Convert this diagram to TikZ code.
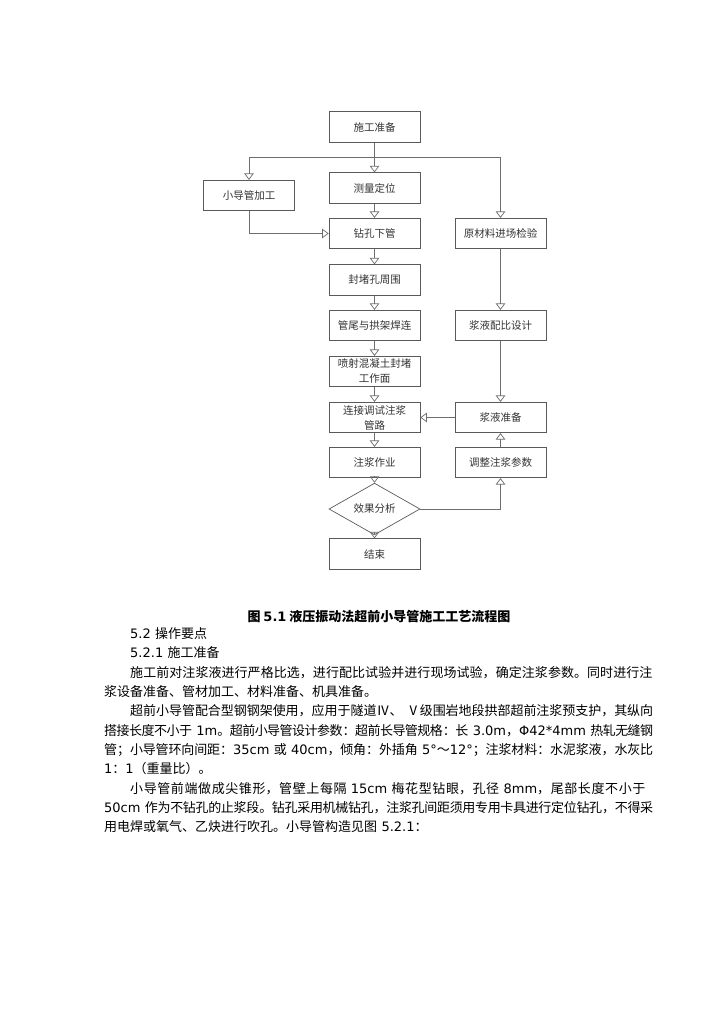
\documentclass[tikz,border=0pt]{standalone}
\usepackage{fontspec}
\setmainfont{Noto Sans CJK SC}
\newfontfamily\latfont{DejaVu Sans}
\newcommand{\lat}[1]{{\latfont #1}}
\usetikzlibrary{arrows.meta, positioning, shapes.geometric}
\XeTeXlinebreaklocale "zh"
\XeTeXlinebreakskip=0pt plus 2pt minus 0.6pt
\definecolor{boxgray}{HTML}{5A5A5A}
\definecolor{linegray}{HTML}{6E6E6E}
\definecolor{labelgray}{HTML}{333333}

\begin{document}
\begin{tikzpicture}[x=1pt, y=-1pt,
  stepbox/.style={draw=boxgray, line width=0.7pt, minimum width=91pt, minimum height=30.5pt,
                  inner sep=1pt, align=center, text=labelgray, font=\fontsize{10.5}{15}\selectfont},
  checkbox/.style={diamond, draw=boxgray, line width=0.7pt, minimum width=91pt, minimum height=28pt,
                   inner sep=0pt, text=labelgray, font=\fontsize{10.5}{15}\selectfont},
  flow/.style={draw=linegray, line width=0.7pt, -{Triangle[open, width=9.5pt, length=6.5pt]}}]
  \fill[white] (0,0) rectangle (724,1024);
  \useasboundingbox (0,0) rectangle (724,1024);
  % centre column
  \node[stepbox] (prep)    at (374.5,127)   {施工准备};
  \node[stepbox] (survey)  at (374.5,188)   {测量定位};
  \node[stepbox] (drill)   at (374.5,233.5) {钻孔下管};
  \node[stepbox] (seal)    at (374.5,280)   {封堵孔周围};
  \node[stepbox] (weld)    at (374.5,325.5) {管尾与拱架焊连};
  \node[stepbox] (spray)   at (374.5,371.5) {喷射混凝土封堵\\工作面};
  \node[stepbox] (connect) at (374.5,417.5) {连接调试注浆\\管路};
  \node[stepbox] (grout)   at (374.5,462.5) {注浆作业};
  \node[checkbox] (check)  at (374.5,509)   {效果分析};
  \node[stepbox] (finish)  at (374.5,554)   {结束};
  % side columns
  \node[stepbox] (pipe)     at (249,195.5)   {小导管加工};
  \node[stepbox] (material) at (500.5,233.5) {原材料进场检验};
  \node[stepbox] (mix)      at (500.5,325.5) {浆液配比设计};
  \node[stepbox] (slurry)   at (500.5,417.5) {浆液准备};
  \node[stepbox] (adjust)   at (500.5,462.5) {调整注浆参数};
  % connectors
  \coordinate (fork) at (374.5,157);
  \draw[flow] (prep) -- (survey);
  \draw[flow] (fork) -| (pipe.north);
  \draw[flow] (fork) -| (material.north);
  \draw[flow] (pipe.south) |- (drill.west);
  \foreach \a/\b in {survey/drill, drill/seal, seal/weld, weld/spray, spray/connect,
                     connect/grout, grout/check, check/finish, material/mix, mix/slurry, adjust/slurry}
    \draw[flow] (\a) -- (\b);
  \draw[flow] (slurry.west) -- (connect.east);
  \draw[flow] (check.east) -| (adjust.south);
  % caption and text
  \node[font=\fontsize{13}{16}\selectfont\bfseries] (caption) at (379,617)
    {图 \lat{5.1} 液压振动法超前小导管施工工艺流程图};
  \node[anchor=north west, text width=549pt, inner sep=0pt,
        font=\fontsize{13}{19.3}\selectfont] (body) at (104,627.5) {%
    \setlength{\parindent}{0pt}%
    \hspace*{26pt}\lat{5.2} 操作要点\par
    \hspace*{26pt}\lat{5.2.1} 施工准备\par
    \hspace*{26pt}施工前对注浆液进行严格比选，进行配比试验并进行现场试验，确定注浆参数。同时进行注\linebreak
    浆设备准备、管材加工、材料准备、机具准备。\par
    \hspace*{26pt}超前小导管配合型钢钢架使用，应用于隧道Ⅳ、 Ⅴ级围岩地段拱部超前注浆预支护，其纵向\linebreak
    搭接长度不小于 \lat{1m}。超前小导管设计参数：超前长导管规格：长 \lat{3.0m}，\lat{Φ42*4mm} 热轧无缝钢\linebreak
    管；小导管环向间距：\lat{35cm} 或 \lat{40cm}，倾角：外插角 \lat{5°}～\lat{12°}；注浆材料：水泥浆液，水灰比\linebreak
    \lat{1}：\lat{1}（重量比）。\par
    \hspace*{26pt}小导管前端做成尖锥形，管壁上每隔 \lat{15cm} 梅花型钻眼，孔径 \lat{8mm}，尾部长度不小于\linebreak
    \lat{50cm} 作为不钻孔的止浆段。钻孔采用机械钻孔，注浆孔间距须用专用卡具进行定位钻孔，不得采\linebreak
    用电焊或氧气、乙炔进行吹孔。小导管构造见图 \lat{5.2.1}：\par};
\end{tikzpicture}
\end{document}
